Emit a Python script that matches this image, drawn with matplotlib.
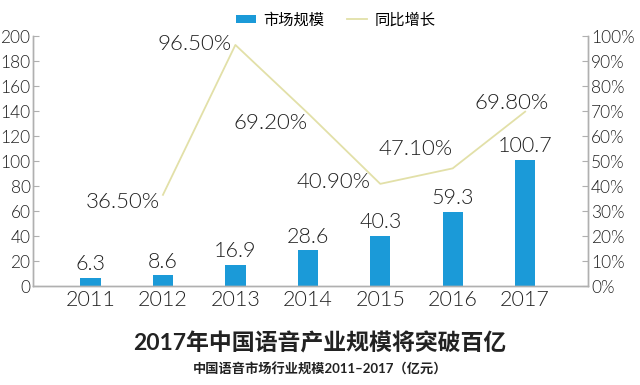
import matplotlib.pyplot as plt
import numpy as np
from matplotlib.ticker import FuncFormatter

plt.rcParams['font.family'] = ['Lato', 'Noto Sans CJK SC', 'DejaVu Sans']
plt.rcParams['font.weight'] = 300

years = ["2011", "2012", "2013", "2014", "2015", "2016", "2017"]
market = [6.3, 8.6, 16.9, 28.6, 40.3, 59.3, 100.7]
growth_years = ["2012", "2013", "2014", "2015", "2016", "2017"]
growth = [36.5, 96.5, 69.2, 40.9, 47.1, 69.8]

title = "2017年中国语音产业规模将突破百亿"
subtitle = "中国语音市场行业规模2011–2017（亿元）"

BLUE = "#1b9ad8"
LINE = "#e2e0a8"
GREY = "#b0b0b0"
INK = "#222222"

fig = plt.figure(figsize=(6.4, 3.85), dpi=100)
ax = fig.add_axes([0.052, 0.257, 0.867, 0.649])
ax2 = ax.twinx()

x = np.arange(len(years))
bars = ax.bar(x, market, width=0.28, color=BLUE, label="市场规模", zorder=2)
for b, v in zip(bars, market):
    ax.text(b.get_x() + b.get_width() / 2, v + 3, f"{v:g}", ha="center", va="bottom",
            fontsize=15.5, color=INK)

gx = [years.index(y) for y in growth_years]
ax2.plot(gx, growth, color=LINE, lw=1.3, label="同比增长", zorder=3)
# label offsets in points (label sits to the left of each point)
offsets = [(-2, -5), (-3, 1), (0, -7), (-7, 1), (0, 14), (17, 6)]
for xi, v, (dx, dy) in zip(gx, growth, offsets):
    ax2.annotate(f"{v:.2f}%", (xi, v), xytext=(dx, dy), textcoords="offset points",
                 ha="right", va="center", fontsize=16, color=INK)

ax.set_xlim(-0.79, 6.87)
ax.set_ylim(0, 200)
ax.set_yticks(range(0, 201, 20))
ax2.set_ylim(0, 100)
ax2.set_yticks(range(0, 101, 10))
ax2.yaxis.set_major_formatter(FuncFormatter(lambda v, _: f"{v:.0f}%"))
ax.set_xticks(x)
ax.set_xticklabels(years)

for a in (ax, ax2):
    a.spines["top"].set_visible(False)
    for s in ("left", "right", "bottom"):
        a.spines[s].set_color(GREY)
        a.spines[s].set_linewidth(1.0)
    a.tick_params(axis="y", direction="in", length=4, color=GREY, labelsize=12.5,
                  labelcolor=INK, pad=2)
ax.tick_params(axis="x", length=0, labelsize=15.5, labelcolor=INK, pad=3)

h1, l1 = ax.get_legend_handles_labels()
h2, l2 = ax2.get_legend_handles_labels()
fig.legend(h1 + h2, l1 + l2, loc="center", bbox_to_anchor=(0.525, 0.948), ncol=2,
           frameon=False, fontsize=11, handlelength=1.3, handleheight=0.5,
           columnspacing=1.5, handletextpad=0.5)

fig.text(0.5, 0.108, title, ha="center", va="center", fontsize=16.5,
         fontweight="bold", color=INK)
fig.text(0.5, 0.042, subtitle, ha="center", va="center", fontsize=9.5,
         fontweight="bold", color=INK)

fig.savefig("out.png", dpi=100, facecolor="white")
